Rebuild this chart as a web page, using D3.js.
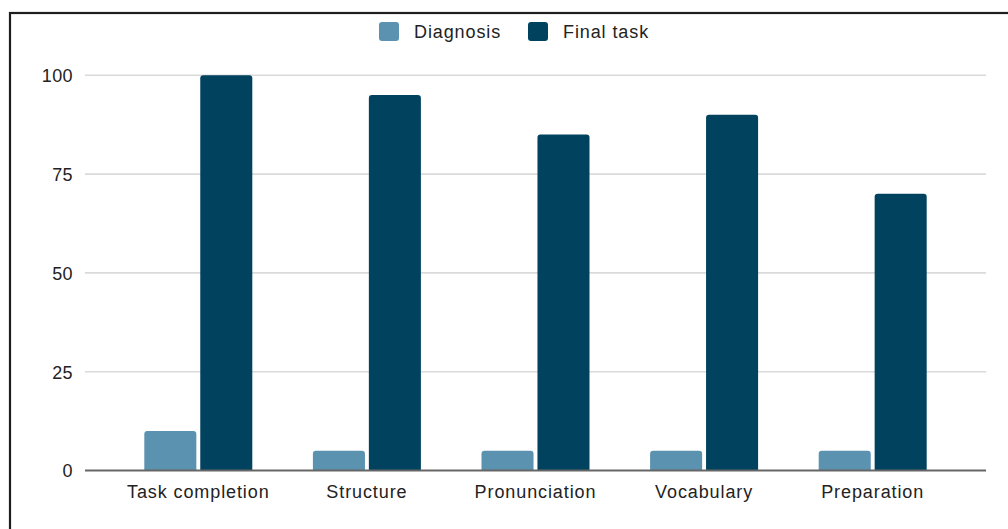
<!DOCTYPE html>
<html>
<head>
<meta charset="utf-8">
<script src="https://cdn.jsdelivr.net/npm/d3@7"></script>
<style>
  html, body { margin: 0; padding: 0; background: #fff; }
  svg { display: block; }
  text { font-family: "Liberation Sans", Arial, sans-serif; fill: #222; }
</style>
</head>
<body>
<svg id="chart" width="1008" height="529"></svg>
<script>
// Scores per skill, before (diagnosis) and after (final task)
const categories = ["Task completion", "Structure", "Pronunciation", "Vocabulary", "Preparation"];
const seriesNames = ["Diagnosis", "Final task"];
const diagnosis = [10, 5, 5, 5, 5];
const finalTask = [100, 95, 85, 90, 70];
const yTicks = [0, 25, 50, 75, 100];

const colors = { "Diagnosis": "#5A92B0", "Final task": "#01435F" };
const seriesValues = { "Diagnosis": diagnosis, "Final task": finalTask };

const svg = d3.select("#chart");
const W = 1008, H = 529;

// Frame around the chart
svg.append("rect")
  .attr("x", 10).attr("y", 13)
  .attr("width", W + 20).attr("height", H + 20)
  .attr("fill", "none").attr("stroke", "#1e1e1e").attr("stroke-width", 2.2);

const grid = { left: 85, right: 986 };
const y = d3.scaleLinear().domain([0, 100]).range([470.5, 75.3]);
const x = d3.scaleBand().domain(categories).range([114, 957]).padding(0);
const bw = x.bandwidth();
const xs = d3.scaleBand().domain(seriesNames)
  .range([bw / 2 - 54, bw / 2 + 54]).paddingInner(0.07).paddingOuter(0);

// Horizontal gridlines
svg.append("g").selectAll("line")
  .data(yTicks.filter(d => d !== 0))
  .join("line")
  .attr("x1", grid.left).attr("x2", grid.right)
  .attr("y1", d => y(d)).attr("y2", d => y(d))
  .attr("stroke", "#dadada").attr("stroke-width", 1.6);

// Y-axis tick labels
const yAxis = d3.axisLeft(y).tickValues(yTicks).tickSize(0).tickPadding(0);
const gy = svg.append("g").attr("transform", "translate(73,0)").call(yAxis);
gy.select(".domain").remove();
gy.selectAll("text")
  .attr("font-size", 18).attr("letter-spacing", 0.4)
  .attr("font-family", "Liberation Sans, Arial, sans-serif")
  .attr("fill", "#222").attr("dy", "0.36em");

// Bars with lightly rounded tops
function barPath(x0, w, yTop, yBase, r) {
  r = Math.min(r, (yBase - yTop), w / 2);
  return `M${x0},${yBase}V${yTop + r}Q${x0},${yTop} ${x0 + r},${yTop}` +
         `H${x0 + w - r}Q${x0 + w},${yTop} ${x0 + w},${yTop + r}V${yBase}Z`;
}

const groups = svg.append("g").selectAll("g")
  .data(categories)
  .join("g")
  .attr("transform", d => `translate(${x(d)},0)`);

groups.selectAll("path")
  .data((c, i) => seriesNames.map(s => ({ s, v: seriesValues[s][i] })))
  .join("path")
  .attr("d", d => barPath(xs(d.s), xs.bandwidth(), y(d.v), y(0), 3))
  .attr("fill", d => colors[d.s]);

// Baseline
svg.append("line")
  .attr("x1", grid.left).attr("x2", grid.right)
  .attr("y1", y(0)).attr("y2", y(0))
  .attr("stroke", "#666").attr("stroke-width", 2);

// X-axis category labels
const xAxis = d3.axisBottom(x).tickSize(0).tickPadding(0);
const gx = svg.append("g").attr("transform", "translate(0,498)").call(xAxis);
gx.select(".domain").remove();
gx.selectAll("text")
  .attr("font-size", 18).attr("letter-spacing", 0.9)
  .attr("font-family", "Liberation Sans, Arial, sans-serif")
  .attr("fill", "#222").attr("dy", 0);

// Legend
const legendItems = [
  { name: "Diagnosis", sx: 379, tx: 414 },
  { name: "Final task", sx: 528, tx: 563 }
];
const lg = svg.append("g");
lg.selectAll("rect")
  .data(legendItems)
  .join("rect")
  .attr("x", d => d.sx).attr("y", 22)
  .attr("width", 20).attr("height", 19)
  .attr("rx", 3)
  .attr("fill", d => colors[d.name]);
lg.selectAll("text")
  .data(legendItems)
  .join("text")
  .attr("x", d => d.tx).attr("y", 38)
  .attr("font-size", 18).attr("letter-spacing", 0.9)
  .text(d => d.name);
</script>
</body>
</html>
